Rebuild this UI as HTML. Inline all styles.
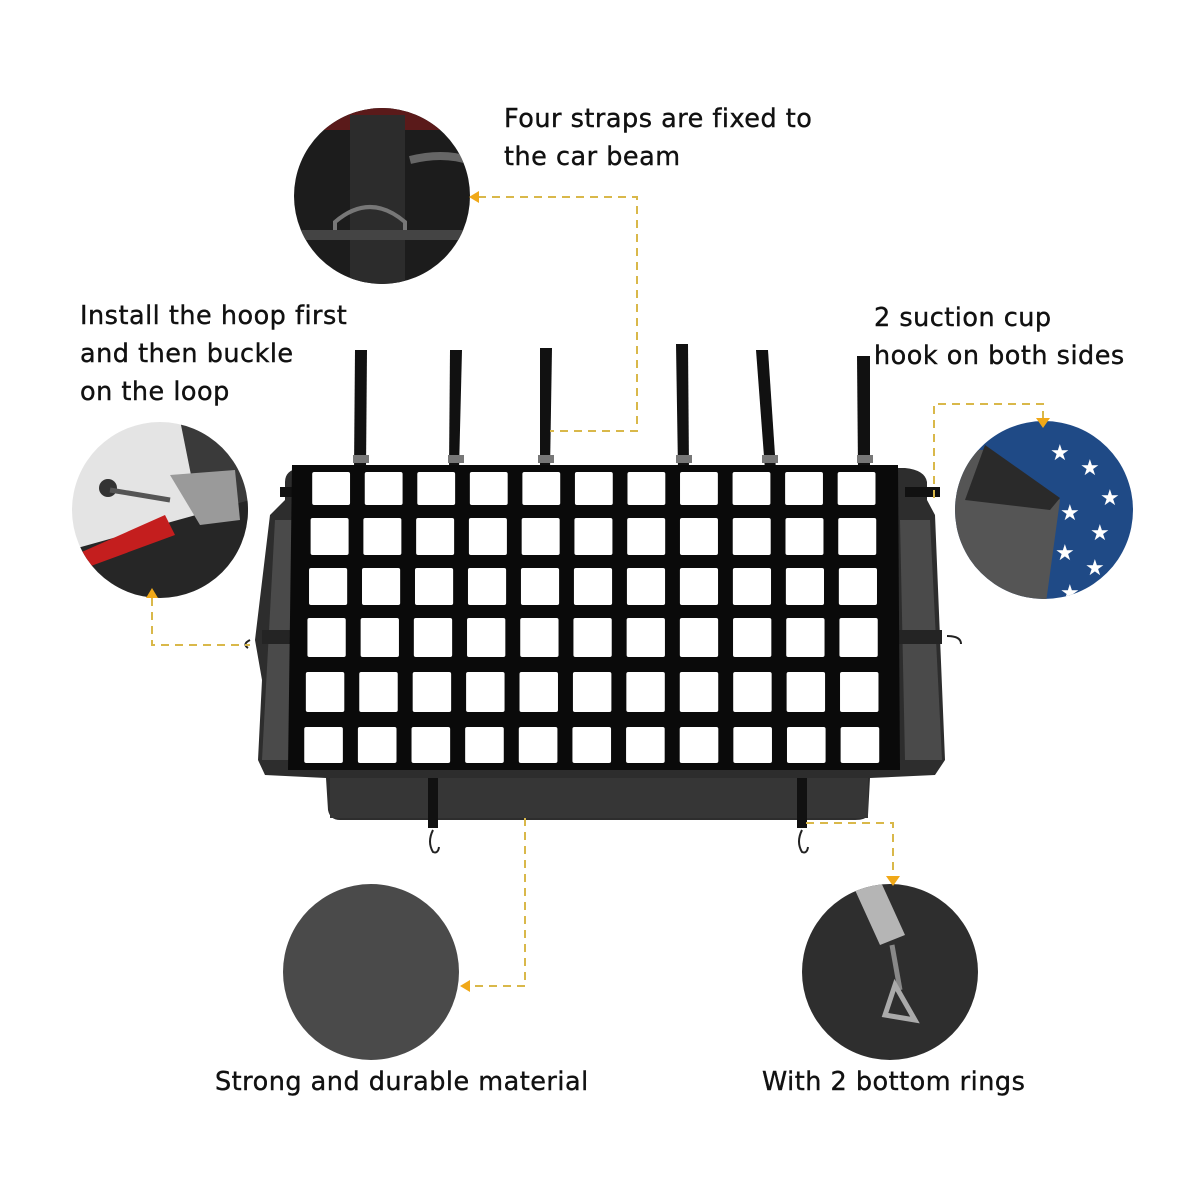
<!DOCTYPE html>
<html><head><meta charset="utf-8"><style>
html,body{margin:0;padding:0;background:#fff;}
body{width:1200px;height:1200px;overflow:hidden;position:relative;font-family:"DejaVu Sans","Liberation Sans",sans-serif;}
.t{position:absolute;font-size:25.5px;color:#111;line-height:38px;white-space:nowrap;letter-spacing:0.5px;-webkit-text-stroke:0.4px #111}
svg{position:absolute;left:0;top:0}
</style></head><body>
<svg width="1200" height="1200" viewBox="0 0 1200 1200">
<defs>
<clipPath id="c1"><circle cx="382" cy="196" r="88"/></clipPath>
<clipPath id="c2"><circle cx="160" cy="510" r="88"/></clipPath>
<clipPath id="c3"><circle cx="1044" cy="510" r="89"/></clipPath>
<clipPath id="c5"><circle cx="890" cy="972" r="88"/></clipPath>
</defs>
<g clip-path="url(#c1)">
<rect x="290" y="100" width="190" height="190" fill="#1c1c1c"/>
<rect x="290" y="100" width="190" height="30" fill="#5a1a1a"/>
<rect x="350" y="115" width="55" height="175" fill="#2c2c2c"/>
<path d="M335 222 q35 -30 70 0 v12 h-70z" fill="none" stroke="#777" stroke-width="4"/>
<rect x="290" y="230" width="190" height="10" fill="#444"/>
<path d="M410 160 q40 -10 70 5" stroke="#666" stroke-width="8" fill="none"/>
</g>
<g clip-path="url(#c2)">
<rect x="70" y="420" width="180" height="180" fill="#e4e4e4"/>
<path d="M180 420 L250 420 L250 520 L200 520z" fill="#3a3a3a"/>
<path d="M70 550 L250 500 L250 600 L70 600z" fill="#262626"/>
<path d="M75 555 L165 515 L175 535 L80 570z" fill="#c41e1e"/>
<path d="M170 475 L235 470 L240 520 L200 525z" fill="#9a9a9a"/>
<circle cx="108" cy="488" r="9" fill="#333"/>
<path d="M110 490 L170 500" stroke="#555" stroke-width="5"/>
</g>
<g clip-path="url(#c3)">
<rect x="950" y="420" width="190" height="190" fill="#1f4a86"/>
<path d="M950 450 L985 450 L1060 500 L1045 610 L950 610z" fill="#555"/>
<path d="M985 445 L1060 498 L1050 510 L965 500z" fill="#2a2a2a"/>
<g fill="#fff" font-size="22" font-family="DejaVu Sans">
<text x="1050" y="460">★</text><text x="1080" y="475">★</text><text x="1060" y="520">★</text><text x="1090" y="540">★</text><text x="1055" y="560">★</text><text x="1085" y="575">★</text><text x="1060" y="600">★</text><text x="1100" y="505">★</text>
</g>
</g>
<circle cx="371" cy="972" r="88" fill="#4a4a4a"/>
<g clip-path="url(#c5)">
<rect x="800" y="880" width="180" height="180" fill="#2e2e2e"/>
<path d="M855 890 L880 880 L905 935 L880 945z" fill="#b5b5b5"/>
<path d="M892 945 L900 990" stroke="#888" stroke-width="5"/>
<path d="M885 1015 L895 985 L915 1020z" fill="none" stroke="#aaa" stroke-width="5"/>
</g>

<path d="M285 482 Q285 470 300 468 L905 468 Q925 470 927 482 L927 500 L935 515 L945 760 L935 775 L870 778 L868 815 Q866 820 855 820 L340 820 Q330 820 328 810 L326 778 L265 775 L258 760 L262 680 L255 640 L270 515 L285 500z" fill="#2d2d2d"/>
<path d="M275 520 L300 520 L298 760 L262 760z" fill="#4a4a4a"/>
<path d="M900 520 L930 520 L942 760 L905 760z" fill="#4a4a4a"/>
<rect x="330" y="778" width="538" height="40" fill="#363636"/>
<rect x="262" y="630" width="680" height="14" fill="#242424"/>
<g fill="#111">
<rect x="280" y="487" width="30" height="10"/><rect x="905" y="487" width="35" height="10"/>
</g>
<g fill="#111">
<path d="M355 350 L367 350 L366 470 L354 470z"/>
<path d="M450 350 L462 350 L459 470 L449 470z"/>
<path d="M540 348 L552 348 L550 470 L540 470z"/>
<path d="M676 344 L688 344 L689 470 L678 470z"/>
<path d="M756 350 L768 350 L776 470 L765 470z"/>
<path d="M857 356 L870 356 L870 470 L858 470z"/>
<rect x="428" y="778" width="10" height="50"/><rect x="797" y="778" width="10" height="50"/>
</g>
<g fill="#777"><rect x="353" y="455" width="16" height="8"/><rect x="448" y="455" width="16" height="8"/><rect x="538" y="455" width="16" height="8"/><rect x="676" y="455" width="16" height="8"/><rect x="762" y="455" width="16" height="8"/><rect x="857" y="455" width="16" height="8"/></g>
<g fill="none" stroke="#222" stroke-width="2"><path d="M433 830 q-6 12 0 22 q5 2 6 -5"/><path d="M802 830 q-6 12 0 22 q5 2 6 -5"/><path d="M250 640 q-8 4 -2 8"/><path d="M947 636 q14 0 14 8"/></g>
<path d="M292 465 L898 465 L900 770 L288 770z" fill="#0a0a0a"/>
<g fill="#fff" id="grid"></g>

<g stroke="#d9b84a" stroke-width="2" stroke-dasharray="8,6" fill="none">
<path d="M478 197 H637 V431 H550"/>
<path d="M152 598 V645 H250"/>
<path d="M934 498 V404 H1043 V420"/>
<path d="M525 818 V986 H466"/>
<path d="M806 823 H893 V878"/>
</g>
<g fill="#f0a818">
<path d="M469 197 l10 -6 v12z"/>
<path d="M152 588 l-6 10 h12z"/>
<path d="M1043 428 l-7 -10 h14z"/>
<path d="M460 986 l10 -6 v12z"/>
<path d="M893 886 l-7 -10 h14z"/>
</g>
</svg>
<div class="t" style="left:504px;top:100px">Four straps are fixed to<br>the car beam</div>
<div class="t" style="left:80px;top:297px">Install the hoop first<br>and then buckle<br>on the loop</div>
<div class="t" style="left:874px;top:299px">2 suction cup<br>hook on both sides</div>
<div class="t" style="left:215px;top:1063px">Strong and durable material</div>
<div class="t" style="left:762px;top:1063px">With 2 bottom rings</div>
<script>
var g=document.getElementById('grid');
var rows=[[472,505],[518,555],[568,605],[618,657],[672,712],[727,763]];
for(var r=0;r<6;r++){
  var t=r/5; var L=310-(t*8), R=888+(t*4);
  var pitch=(R-L)/11; var w=pitch*0.72;
  for(var c=0;c<11;c++){
    var x=L+c*pitch+(pitch-w)/2*0.3;
    var e=document.createElementNS('http://www.w3.org/2000/svg','rect');
    e.setAttribute('x',x);e.setAttribute('y',rows[r][0]);
    e.setAttribute('width',w);e.setAttribute('height',rows[r][1]-rows[r][0]);
    e.setAttribute('rx',2);g.appendChild(e);
  }
}
</script>
</body></html>
